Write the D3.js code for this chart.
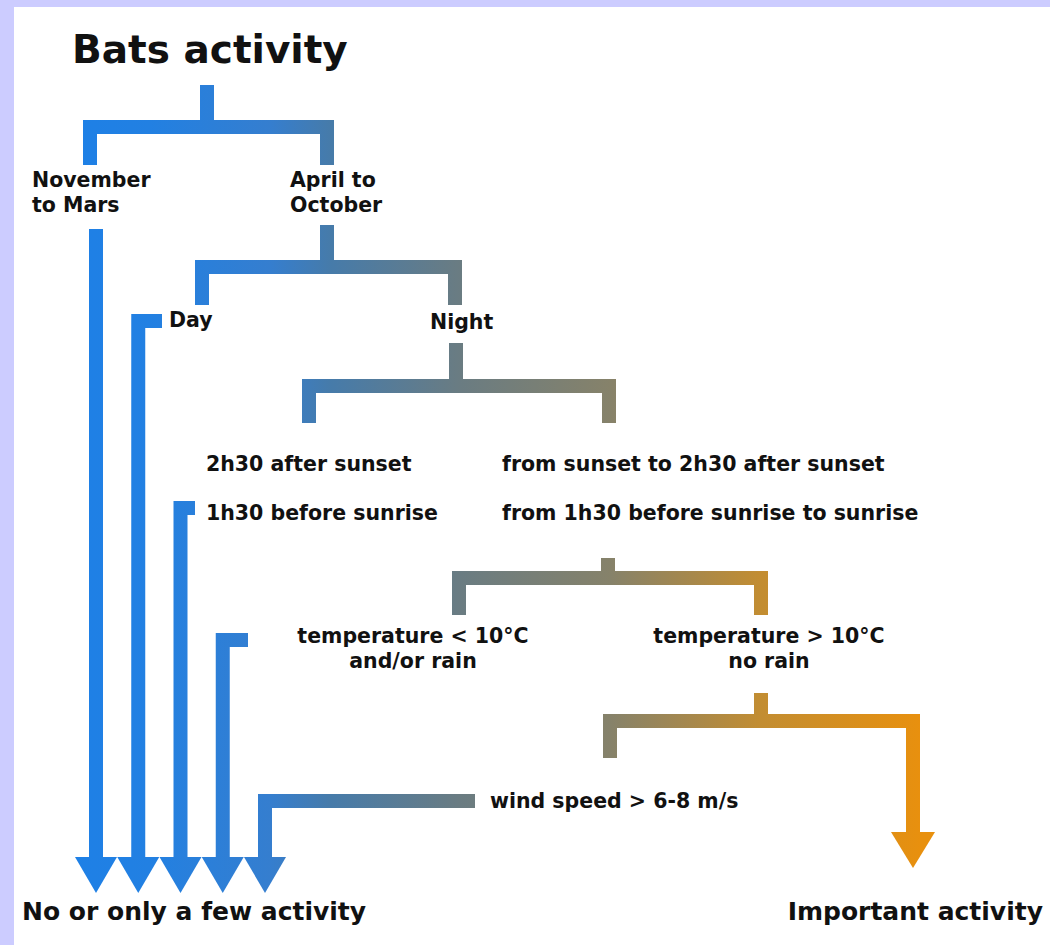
<!DOCTYPE html>
<html>
<head>
<meta charset="utf-8">
<script src="https://cdn.jsdelivr.net/npm/d3@7"></script>
<style>
  body { margin: 0; background: #ccccff; }
  svg { display: block; }
  text { font-family: "DejaVu Sans", Verdana, sans-serif; font-weight: bold; fill: #111; }
</style>
</head>
<body>
<div id="chart"></div>
<script>
const title = "Bats activity";

// decision labels, one entry per node (multi-line where the picture wraps)
const nodeLabels = [
  ["November", "to Mars"],
  ["April to", "October"],
  ["Day"],
  ["Night"],
  ["2h30 after sunset"],
  ["1h30 before sunrise"],
  ["from sunset to 2h30 after sunset"],
  ["from 1h30 before sunrise to sunrise"],
  ["temperature < 10°C", "and/or rain"],
  ["temperature > 10°C", "no rain"],
  ["wind speed > 6-8 m/s"]
];

const outcomes = ["No or only a few activity", "Important activity"];

// which decision each "few activity" arrow comes from
const fewArrows = ["November to Mars", "Day", "1h30 before sunrise", "temperature < 10°C", "wind speed > 6-8 m/s"];

const W = 1050, H = 945;

// layout of the drawing
const labelPos = [
  {x: 32, y: 187, anchor: 'start'},
  {x: 290, y: 187, anchor: 'start'},
  {x: 169, y: 327, anchor: 'start'},
  {x: 430, y: 329, anchor: 'start'},
  {x: 206, y: 471, anchor: 'start'},
  {x: 206, y: 520, anchor: 'start'},
  {x: 502, y: 471, anchor: 'start'},
  {x: 502, y: 520, anchor: 'start'},
  {x: 413, y: 643, anchor: 'middle'},
  {x: 769, y: 643, anchor: 'middle'},
  {x: 490, y: 808, anchor: 'start'}
];

const brackets = [
  {stemX: 207, stemTop: 85, barY: 127, left: 90, right: 327, leftEnd: 165, rightEnd: 165},
  {stemX: 327, stemTop: 225, barY: 267, left: 202, right: 455, leftEnd: 305, rightEnd: 305},
  {stemX: 456, stemTop: 343, barY: 386, left: 309, right: 609, leftEnd: 423, rightEnd: 423},
  {stemX: 608, stemTop: 558, barY: 578, left: 459, right: 761, leftEnd: 615, rightEnd: 615},
  {stemX: 761, stemTop: 693, barY: 721, left: 610, right: 913, leftEnd: 758, rightEnd: 832}
];

const arrowStarts = [
  {y: 229, hook: null},
  {y: 321, hook: 162},
  {y: 508, hook: 195},
  {y: 640, hook: 248},
  {y: 801, hook: 475}
];

const stroke = 14;
const headTop = 857, headTip = 893, headHalf = 21;

const col = d3.scaleLinear().domain([0, fewArrows.length - 1]).range([96, 265]);

// blue on the left, slate in the middle, orange on the right
const flowColor = d3.scaleLinear()
  .domain([0, 150, 270, 330, 460, 610, 760, 920, 1050])
  .range(['#1a80ea', '#2280e2', '#357ecf', '#467baa', '#6a7c82', '#86826a', '#c28d32', '#e8900e', '#e8900e']);

const svg = d3.select('#chart').append('svg')
  .attr('width', W)
  .attr('height', H);

const grad = svg.append('defs').append('linearGradient')
  .attr('id', 'flow')
  .attr('gradientUnits', 'userSpaceOnUse')
  .attr('x1', 0).attr('y1', 0)
  .attr('x2', W).attr('y2', 0);

grad.selectAll('stop')
  .data(flowColor.domain())
  .join('stop')
  .attr('offset', d => d / W)
  .attr('stop-color', d => flowColor(d));

svg.append('rect')
  .attr('width', W).attr('height', H)
  .attr('fill', '#ccccff');

svg.append('rect')
  .attr('x', 14).attr('y', 7)
  .attr('width', W - 14).attr('height', H - 7)
  .attr('fill', '#fff');

svg.append('text')
  .attr('x', 72)
  .attr('y', 63)
  .style('font-size', '39px')
  .text(title);

// brackets
let g = svg.append('g')
  .attr('fill', 'none')
  .attr('stroke', 'url(#flow)')
  .attr('stroke-width', stroke)
  .attr('stroke-linejoin', 'miter');

g.selectAll('path.bracket')
  .data(brackets)
  .join('path')
  .attr('class', 'bracket')
  .attr('d', d => {
    let p = d3.path();
    p.moveTo(d.left, d.leftEnd);
    p.lineTo(d.left, d.barY);
    p.lineTo(d.right, d.barY);
    p.lineTo(d.right, d.rightEnd);
    p.moveTo(d.stemX, d.stemTop);
    p.lineTo(d.stemX, d.barY);
    return p.toString();
  });

// arrows to "few activity"
g.selectAll('path.few')
  .data(arrowStarts)
  .join('path')
  .attr('class', 'few')
  .attr('d', (d, i) => {
    let p = d3.path();
    let x = col(i);
    if (d.hook !== null) {
      p.moveTo(d.hook, d.y);
      p.lineTo(x, d.y);
    } else {
      p.moveTo(x, d.y);
    }
    p.lineTo(x, headTop + 1);
    return p.toString();
  });

let heads = arrowStarts.map((d, i) => ({x: col(i), top: headTop, tip: headTip, half: headHalf}));
let last = brackets[brackets.length - 1];
heads.push({x: last.right, top: last.rightEnd, tip: last.rightEnd + 36, half: 22});

svg.append('g')
  .selectAll('path')
  .data(heads)
  .join('path')
  .attr('fill', 'url(#flow)')
  .attr('d', d => 'M' + (d.x - d.half) + ',' + d.top +
    'L' + (d.x + d.half) + ',' + d.top +
    'L' + d.x + ',' + d.tip + 'Z');

// labels
let labels = svg.append('g')
  .selectAll('text')
  .data(nodeLabels)
  .join('text')
  .attr('x', (d, i) => labelPos[i].x)
  .attr('y', (d, i) => labelPos[i].y)
  .attr('text-anchor', (d, i) => labelPos[i].anchor)
  .style('font-size', '20.5px');

labels.selectAll('tspan')
  .data((d, i) => d.map(t => ({t: t, i: i})))
  .join('tspan')
  .attr('x', d => labelPos[d.i].x)
  .attr('dy', (d, j) => j === 0 ? 0 : 25)
  .text(d => d.t);

svg.append('text')
  .attr('x', 22)
  .attr('y', 920)
  .style('font-size', '25px')
  .text(outcomes[0]);

svg.append('text')
  .attr('x', 1043)
  .attr('y', 920)
  .attr('text-anchor', 'end')
  .style('font-size', '25px')
  .text(outcomes[1]);
</script>
</body>
</html>
